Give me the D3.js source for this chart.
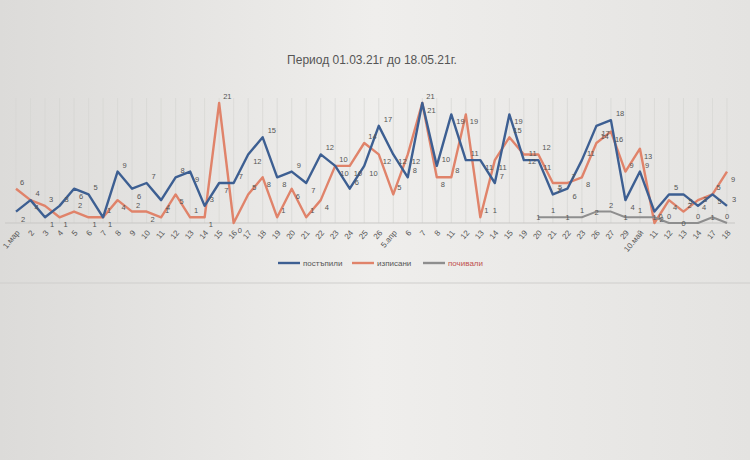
<!DOCTYPE html>
<html><head><meta charset="utf-8">
<script src="https://cdn.jsdelivr.net/npm/d3@7"></script>
<style>body{margin:0;background:#e6e5e3}svg{display:block}</style>
</head><body><svg id="c" width="750" height="460"></svg>
<script>
const categories = ["1.мар","2","3","4","5","6","7","8","9","10","11","12","13","14","15","16","17","18","19","20","21","22","23","24","25","26",
 "5.апр","6","7","8","11","12","13","14","15","19","20","21","22","23","26","27","29","10.май","11","12","13","14","17","18"];
const postapili = [2,4,1,3,6,5,1,9,6,7,4,8,9,3,7,7,12,15,8,9,7,12,10,6,10,17,
 12,8,21,10,19,11,11,7,19,11,11,5,6,11,17,18,4,9,2,5,5,3,5,3];
const izpisani = [6,4,3,1,2,1,1,4,2,2,1,5,1,1,21,0,5,8,1,6,1,4,10,10,14,12,
 5,12,21,8,8,19,1,11,15,12,12,7,7,8,14,16,9,13,0,4,2,4,5,9];
const pochinali = [null,null,null,null,null,null,null,null,null,null,null,null,null,null,null,null,null,null,null,null,null,null,null,null,null,null,
 null,null,null,null,null,null,null,1,null,null,1,1,1,1,2,2,1,1,1,0,0,0,1,0];
const seriesNames = ["постъпили","изписани","почивали"];
const colors = ["#3d5f92","#e0836a","#8e8e8e"];

const svg = d3.select("#c");
const defs = svg.append("defs");
const g0 = defs.append("linearGradient").attr("id","bg").attr("x1",0).attr("x2",1);
g0.append("stop").attr("offset","0").attr("stop-color","#dcdbd9");
g0.append("stop").attr("offset","0.5").attr("stop-color","#efeeec");
g0.append("stop").attr("offset","1").attr("stop-color","#e4e3e1");
svg.append("rect").attr("width",750).attr("height",460).attr("fill","url(#bg)");
svg.append("line").attr("x1",0).attr("x2",750).attr("y1",283).attr("y2",283).attr("stroke","#cfcecc");

const x = d3.scalePoint().domain(d3.range(categories.length)).range([16,727]);
const y = d3.scaleLinear().domain([0,21]).range([223,103]);

svg.append("g").selectAll("line").data(d3.range(categories.length)).join("line")
 .attr("x1",d=>x(d)).attr("x2",d=>x(d)).attr("y1",y(0)).attr("y2",y(21)-5)
 .attr("stroke","#d6d5d3").attr("stroke-width",0.7);
svg.append("line").attr("x1",5).attr("x2",735).attr("y1",y(0)).attr("y2",y(0)).attr("stroke","#c8c7c5");

svg.append("g").selectAll("text").data(categories).join("text")
 .attr("transform",(d,i)=>`translate(${x(i)+4},${y(0)+10}) rotate(-50)`)
 .attr("text-anchor","end").attr("font-family","Liberation Sans, Arial").attr("font-size",8)
 .attr("fill","#555").text(d=>d);

const all = [postapili,izpisani,pochinali];
const line = d3.line().defined(d=>d!=null).x((d,i)=>x(i)).y(d=>y(d));
[1,0,2].forEach(k=>{
  svg.append("path").datum(all[k]).attr("d",line).attr("fill","none")
   .attr("stroke",colors[k]).attr("stroke-width",k==2?2:2.4).attr("stroke-linejoin","round");
});
all.forEach((s,k)=>{
  svg.append("g").selectAll("text").data(s.map((v,i)=>({v,i})).filter(d=>d.v!=null)).join("text")
   .attr("x",d=>x(d.i)+(k==0?5:k==1?4:-2)).attr("y",d=>y(d.v)+(k==0?(d.i%2?-4:10):k==1?(d.i%2?10:-4):(d.i%2?-4:3)))
   .attr("font-family","Liberation Sans, Arial").attr("font-size",7.5).attr("fill","#555")
   .text(d=>d.v);
});

svg.append("text").attr("x",372).attr("y",64).attr("text-anchor","middle")
 .attr("font-family","Liberation Sans, Arial").attr("font-size",12).attr("fill","#555")
 .text("Период 01.03.21г до 18.05.21г.");

const lg = svg.append("g").attr("transform","translate(278,263)");
const offs=[0,74,145];
seriesNames.forEach((n,k)=>{
  const gg = lg.append("g").attr("transform",`translate(${offs[k]},0)`);
  gg.append("line").attr("x1",0).attr("x2",22).attr("stroke",colors[k]).attr("stroke-width",2.4);
  gg.append("text").attr("x",25).attr("y",3).attr("font-family","Liberation Sans, Arial")
   .attr("font-size",8).attr("fill",k==2?"#c0504d":"#555").text(n);
});
</script></body></html>
